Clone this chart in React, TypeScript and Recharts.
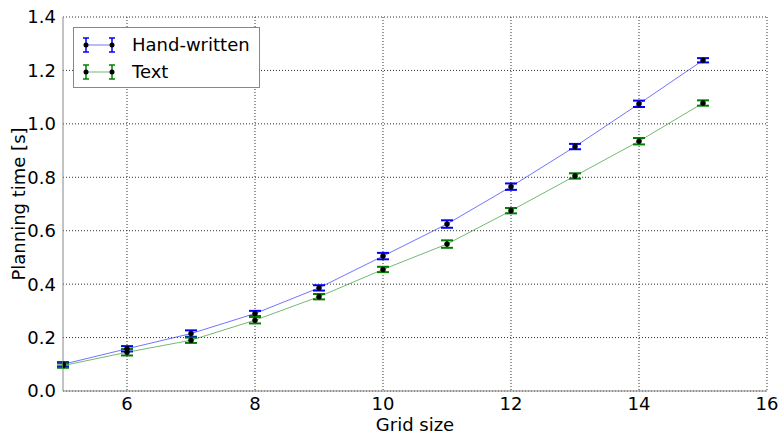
import React from "react";
import {
  LineChart,
  Line,
  XAxis,
  YAxis,
  CartesianGrid,
  ErrorBar,
} from "recharts";

const gridSizes = [5, 6, 7, 8, 9, 10, 11, 12, 13, 14, 15];
const handWritten = [0.1, 0.158, 0.215, 0.29, 0.386, 0.505, 0.625, 0.765, 0.915, 1.075, 1.238];
const handWrittenErr = [0.008, 0.01, 0.012, 0.01, 0.01, 0.012, 0.014, 0.012, 0.01, 0.012, 0.008];
const text = [0.095, 0.145, 0.19, 0.265, 0.353, 0.455, 0.55, 0.675, 0.805, 0.935, 1.078];
const textErr = [0.008, 0.012, 0.01, 0.012, 0.01, 0.01, 0.014, 0.01, 0.01, 0.012, 0.01];
const xTicks = [6, 8, 10, 12, 14, 16];
const yTicks = [0, 0.2, 0.4, 0.6, 0.8, 1.0, 1.2, 1.4];

const data = gridSizes.map((x, i) => ({
  x,
  hw: handWritten[i],
  hwErr: handWrittenErr[i],
  txt: text[i],
  txtErr: textErr[i],
}));

const FONT = "'DejaVu Sans', sans-serif";

const series = [
  { name: "Hand-written", color: "#0000ff" },
  { name: "Text", color: "#008000" },
];

// matplotlib-style legend box, drawn over the plot
function LegendBox() {
  return (
    <div
      style={{
        position: "absolute",
        left: 73,
        top: 27,
        border: "1px solid #888",
        background: "white",
        width: 187,
        height: 61,
        fontFamily: FONT,
        fontSize: 18,
        boxSizing: "border-box",
        paddingTop: 3,
        whiteSpace: "nowrap",
      }}
    >
      {series.map((s) => (
        <div key={s.name} style={{ display: "flex", alignItems: "center", height: 27 }}>
          <svg width={50} height={24} style={{ marginLeft: 4 }}>
            <line x1={8} y1={12} x2={34} y2={12} stroke={s.color} strokeOpacity={0.55} />
            {[8, 34].map((cx) => (
              <g key={cx}>
                <line x1={cx} y1={5} x2={cx} y2={19} stroke={s.color} strokeWidth={1.5} />
                <line x1={cx - 3} y1={5} x2={cx + 3} y2={5} stroke={s.color} strokeWidth={1.5} />
                <line x1={cx - 3} y1={19} x2={cx + 3} y2={19} stroke={s.color} strokeWidth={1.5} />
                <circle cx={cx} cy={12} r={2.5} fill="black" />
              </g>
            ))}
          </svg>
          <span style={{ marginLeft: 4 }}>{s.name}</span>
        </div>
      ))}
    </div>
  );
}

export default function App() {
  return (
    <div style={{ position: "absolute", top: 0, left: 0, width: 778, height: 434, background: "white" }}>
      <LineChart
        width={778}
        height={434}
        data={data}
        margin={{ top: 17, right: 11, left: 0, bottom: 0 }}
        style={{ fontFamily: FONT }}
      >
        <CartesianGrid stroke="#333" strokeDasharray="1 2" verticalValues={xTicks} horizontalValues={yTicks} />
        <XAxis
          dataKey="x"
          type="number"
          domain={[5, 16]}
          ticks={xTicks}
          allowDataOverflow
          height={43}
          tickLine={false}
          axisLine={{ stroke: "#888" }}
          tick={{ fill: "#000", fontSize: 18 }}
          tickMargin={0}
          label={{ value: "Grid size", position: "insideBottom", offset: 3, fill: "#000", fontSize: 18 }}
        />
        <XAxis xAxisId="top" dataKey="x" type="number" domain={[5, 16]} orientation="top" height={0} tick={false} tickLine={false} axisLine={{ stroke: "#888" }} />
        <YAxis
          type="number"
          domain={[0, 1.4]}
          ticks={yTicks}
          width={63}
          tickLine={false}
          axisLine={{ stroke: "#888" }}
          tick={{ fill: "#000", fontSize: 18 }}
          tickMargin={1}
          tickFormatter={(v: number) => v.toFixed(1)}
          label={{ value: "Planning time [s]", angle: -90, position: "insideLeft", offset: 19, fill: "#000", fontSize: 18, style: { textAnchor: "middle" } }}
        />
        <YAxis yAxisId="right" orientation="right" domain={[0, 1.4]} width={0} tick={false} tickLine={false} axisLine={{ stroke: "#888" }} />
        <Line
          dataKey="hw"
          name="Hand-written"
          stroke="#0000ff"
          strokeOpacity={0.55}
          strokeWidth={1}
          dot={{ r: 2.5, fill: "#000", stroke: "#000", strokeWidth: 1 }}
          isAnimationActive={false}
        >
          <ErrorBar dataKey="hwErr" direction="y" width={6} stroke="#0000ff" strokeWidth={2} />
        </Line>
        <Line
          dataKey="txt"
          name="Text"
          stroke="#008000"
          strokeOpacity={0.55}
          strokeWidth={1}
          dot={{ r: 2.5, fill: "#000", stroke: "#000", strokeWidth: 1 }}
          isAnimationActive={false}
        >
          <ErrorBar dataKey="txtErr" direction="y" width={6} stroke="#008000" strokeWidth={2} />
        </Line>
      </LineChart>
      <LegendBox />
    </div>
  );
}
